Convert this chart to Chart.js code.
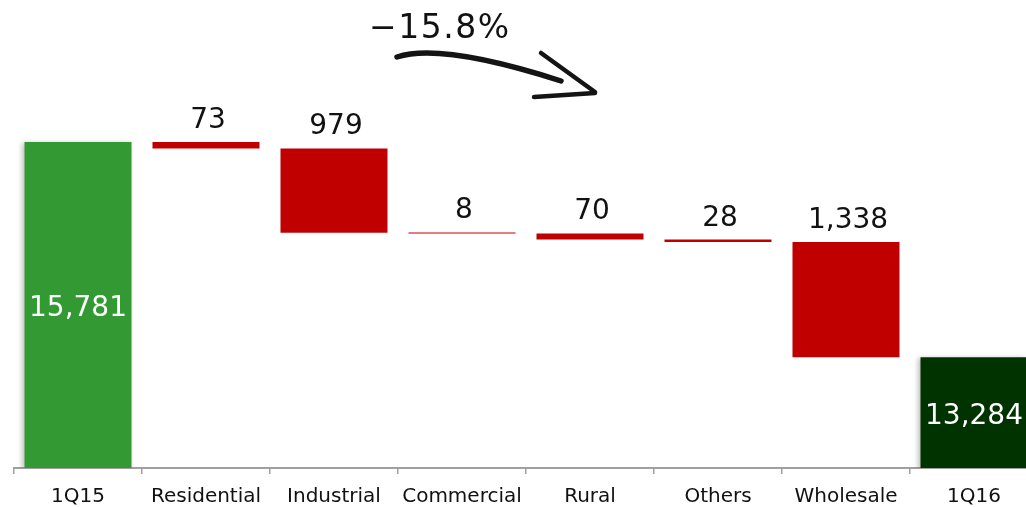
<!DOCTYPE html>
<html><head><meta charset="utf-8">
<script src="https://cdn.jsdelivr.net/npm/chart.js@4"></script>
<style>
html,body{margin:0;padding:0;background:#fff;overflow:hidden;}
#wrap{position:relative;width:1040px;height:507px;}
</style></head><body>
<div id="wrap"><canvas id="c"></canvas></div>
<script>
const categories = ['1Q15','Residential','Industrial','Commercial','Rural','Others','Wholesale','1Q16'];
const startTotal = 15781;
const endTotal = 13284;
const changes = [73, 979, 8, 70, 28, 1338];
const overallChange = '\u221215.8%';
const axisMin = 12000;
const axisMax = 17430;

const fmt = v => v.toLocaleString('en-US');

const totalsData = categories.map(() => null);
totalsData[0] = [axisMin, startTotal];
totalsData[categories.length - 1] = [axisMin, endTotal];
const totalsText = categories.map(() => null);
totalsText[0] = fmt(startTotal);
totalsText[categories.length - 1] = fmt(endTotal);

const changeData = categories.map(() => null);
const changeText = categories.map(() => null);
let running = startTotal;
changes.forEach((c, i) => {
  changeData[i + 1] = [running - c, running];
  changeText[i + 1] = fmt(c);
  running -= c;
});

const FONT = 'DejaVu Sans';

const shadowPlugin = {
  id: 'shadow',
  beforeDatasetDraw(chart, args) {
    if (args.index === 0) {
      const ctx = chart.ctx;
      ctx.save();
      ctx.shadowColor = 'rgba(0,0,0,0.25)';
      ctx.shadowBlur = 5;
      ctx.shadowOffsetX = -2;
      ctx.shadowOffsetY = 1;
    }
  },
  afterDatasetDraw(chart, args) {
    if (args.index === 0) chart.ctx.restore();
  }
};

const labelPlugin = {
  id: 'labels',
  afterDatasetsDraw(chart) {
    const ctx = chart.ctx;
    ctx.save();
    ctx.font = '28px "' + FONT + '"';
    ctx.textAlign = 'center';
    ctx.textBaseline = 'alphabetic';
    chart.getDatasetMeta(0).data.forEach((el, i) => {
      if (!totalsText[i]) return;
      const top = Math.min(el.y, el.base), bot = Math.max(el.y, el.base);
      ctx.fillStyle = '#ffffff';
      ctx.fillText(totalsText[i], el.x, (top + bot) / 2 + 11);
    });
    chart.getDatasetMeta(1).data.forEach((el, i) => {
      if (!changeText[i]) return;
      const top = Math.min(el.y, el.base);
      ctx.fillStyle = '#111111';
      ctx.fillText(changeText[i], el.x + 2, top - 14);
    });
    ctx.restore();
  },
  afterDraw(chart) {
    const ctx = chart.ctx;
    ctx.save();
    ctx.font = '33px "' + FONT + '"';
    ctx.fillStyle = '#111111';
    ctx.textAlign = 'left';
    ctx.textBaseline = 'alphabetic';
    try { ctx.letterSpacing = '1.5px'; } catch (e) {}
    ctx.fillText(overallChange, 369, 38);
    ctx.restore();

    ctx.save();
    ctx.strokeStyle = '#141414';
    ctx.lineCap = 'round';
    ctx.lineJoin = 'round';
    ctx.lineWidth = 5.5;
    ctx.beginPath();
    ctx.moveTo(397, 57);
    ctx.bezierCurveTo(425, 48, 480, 55, 561, 81);
    ctx.stroke();
    ctx.lineWidth = 4.5;
    ctx.beginPath();
    ctx.moveTo(541, 53);
    ctx.quadraticCurveTo(570, 74, 595, 92);
    ctx.stroke();
    ctx.beginPath();
    ctx.moveTo(534, 97);
    ctx.quadraticCurveTo(565, 95, 595, 93);
    ctx.stroke();
    ctx.restore();
  }
};

new Chart(document.getElementById('c'), {
  type: 'bar',
  data: {
    labels: categories,
    datasets: [
      {
        data: totalsData,
        backgroundColor: ['#339933', null, null, null, null, null, null, '#003300'],
        grouped: false,
        categoryPercentage: 1,
        barPercentage: 0.836,
        borderWidth: 0
      },
      {
        data: changeData,
        backgroundColor: '#C00000',
        grouped: false,
        categoryPercentage: 1,
        barPercentage: 0.836,
        borderWidth: 0,
        minBarLength: 1
      }
    ]
  },
  options: {
    responsive: true,
    maintainAspectRatio: false,
    animation: false,
    layout: { padding: { left: 14, right: 2, top: 0, bottom: 0 } },
    plugins: { legend: { display: false }, tooltip: { enabled: false } },
    scales: {
      x: {
        offset: true,
        grid: { offset: true, drawOnChartArea: false, drawTicks: true, tickLength: 6, color: '#a0a0a0', lineWidth: 1.5 },
        border: { display: true, color: '#a0a0a0', width: 2 },
        ticks: { color: '#111111', font: { family: FONT, size: 20 }, padding: 11, autoSkip: false, maxRotation: 0 },
        afterFit: s => { s.height = 39; }
      },
      y: { display: false, min: axisMin, max: axisMax }
    }
  },
  plugins: [shadowPlugin, labelPlugin]
});
</script>
</body></html>
